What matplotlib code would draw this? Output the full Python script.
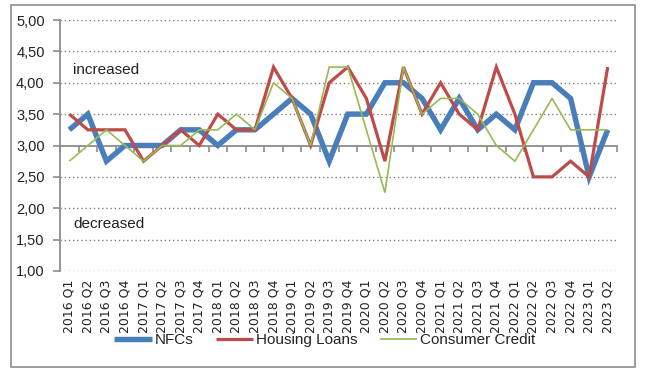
import matplotlib
matplotlib.use("Agg")
import matplotlib.pyplot as plt
import numpy as np
from matplotlib.patches import Rectangle
from matplotlib.ticker import FuncFormatter, MultipleLocator, FixedLocator

categories = ["2016 Q1", "2016 Q2", "2016 Q3", "2016 Q4",
              "2017 Q1", "2017 Q2", "2017 Q3", "2017 Q4",
              "2018 Q1", "2018 Q2", "2018 Q3", "2018 Q4",
              "2019 Q1", "2019 Q2", "2019 Q3", "2019 Q4",
              "2020 Q1", "2020 Q2", "2020 Q3", "2020 Q4",
              "2021 Q1", "2021 Q2", "2021 Q3", "2021 Q4",
              "2022 Q1", "2022 Q2", "2022 Q3", "2022 Q4",
              "2023 Q1", "2023 Q2"]

nfcs = [3.25, 3.50, 2.75, 3.00, 3.00, 3.00, 3.25, 3.25, 3.00, 3.25,
        3.25, 3.50, 3.75, 3.50, 2.75, 3.50, 3.50, 4.00, 4.00, 3.75,
        3.25, 3.75, 3.25, 3.50, 3.25, 4.00, 4.00, 3.75, 2.50, 3.25]

housing_loans = [3.50, 3.25, 3.25, 3.25, 2.75, 3.00, 3.25, 3.00, 3.50, 3.25,
                 3.25, 4.25, 3.75, 3.00, 4.00, 4.25, 3.75, 2.75, 4.25, 3.50,
                 4.00, 3.50, 3.25, 4.25, 3.50, 2.50, 2.50, 2.75, 2.50, 4.25]

consumer_credit = [2.75, 3.00, 3.25, 3.00, 2.75, 3.00, 3.00, 3.25, 3.25, 3.50,
                   3.25, 4.00, 3.75, 3.00, 4.25, 4.25, 3.25, 2.25, 4.25, 3.50,
                   3.75, 3.75, 3.50, 3.00, 2.75, 3.25, 3.75, 3.25, 3.25, 3.25]

series_names = ["NFCs", "Housing Loans", "Consumer Credit"]
annotations = [("increased", 4.20), ("decreased", 1.75)]

W, H = 645, 375
fig = plt.figure(figsize=(W / 100, H / 100), dpi=100)
fig.patch.set_facecolor("white")

# outer chart border
fig.patches.append(Rectangle((11 / W, 1 - 367 / H), (635 - 11) / W, (367 - 5) / H,
                             transform=fig.transFigure, fill=False,
                             edgecolor="#8c8c8c", linewidth=1.2))

ax = fig.add_axes([60 / W, 1 - 271 / H, (617 - 60) / W, (271 - 20) / H])
x = np.arange(len(categories))

font = ["Liberation Sans", "DejaVu Sans"]

colors = ["#4a7ebb", "#be4b48", "#98b954"]
widths = [3.9, 2.3, 1.2]
for vals, name, c, lw in zip([nfcs, housing_loans, consumer_credit], series_names, colors, widths):
    ax.plot(x, vals, color=c, linewidth=lw, label=name, solid_joinstyle="miter",
            solid_capstyle="butt")

ax.set_xlim(-0.5, len(categories) - 0.5)
ax.set_ylim(1.0, 5.0)

# gridlines
ax.yaxis.set_major_locator(MultipleLocator(0.5))
ax.yaxis.set_major_formatter(FuncFormatter(lambda v, p: f"{v:.2f}".replace(".", ",")))
for yv in np.arange(1.0, 5.01, 0.5):
    if abs(yv - 3.0) > 1e-9:
        ax.axhline(yv, color="#7f7f7f", linewidth=1.0, linestyle=(0, (1, 2)), zorder=0)

for s in ["top", "right"]:
    ax.spines[s].set_visible(False)
ax.spines["left"].set_color("#8c8c8c")
ax.spines["left"].set_linewidth(1.3)
ax.spines["bottom"].set_position(("data", 3.0))
ax.spines["bottom"].set_color("#8c8c8c")
ax.spines["bottom"].set_linewidth(1.3)
ax.spines["bottom"].set_zorder(0.5)

ax.tick_params(axis="y", length=5, width=1.2, color="#8c8c8c", labelsize=10.5,
               labelcolor="#222222", pad=6)
for lab in ax.get_yticklabels():
    lab.set_family(font)

# category boundary ticks on the 3.0 axis line
ax.xaxis.set_major_locator(FixedLocator(np.arange(-0.5, len(categories), 1.0)))
ax.xaxis.set_major_formatter(FuncFormatter(lambda v, p: ""))
ax.tick_params(axis="x", length=4, width=1.2, color="#8c8c8c", direction="out")

# category labels at bottom
sec = ax.secondary_xaxis(0.0)
sec.set_xticks(x)
sec.set_xticklabels(categories, rotation=90, fontsize=9, family="DejaVu Sans",
                    color="#222222")
sec.tick_params(length=0, pad=6)
sec.spines["bottom"].set_visible(False)

for txt, yv in annotations:
    ax.text(0.2, yv, txt, fontsize=11, family=font, color="#222222", va="center", ha="left")

leg = fig.legend(loc="center", bbox_to_anchor=(325 / W, 1 - 340 / H), ncol=3,
                 frameon=False, prop={"family": font, "size": 11},
                 handlelength=2.45, columnspacing=1.45, handletextpad=0.2)
for t in leg.get_texts():
    t.set_color("#222222")

fig.savefig("out.png", dpi=100, facecolor="white")
